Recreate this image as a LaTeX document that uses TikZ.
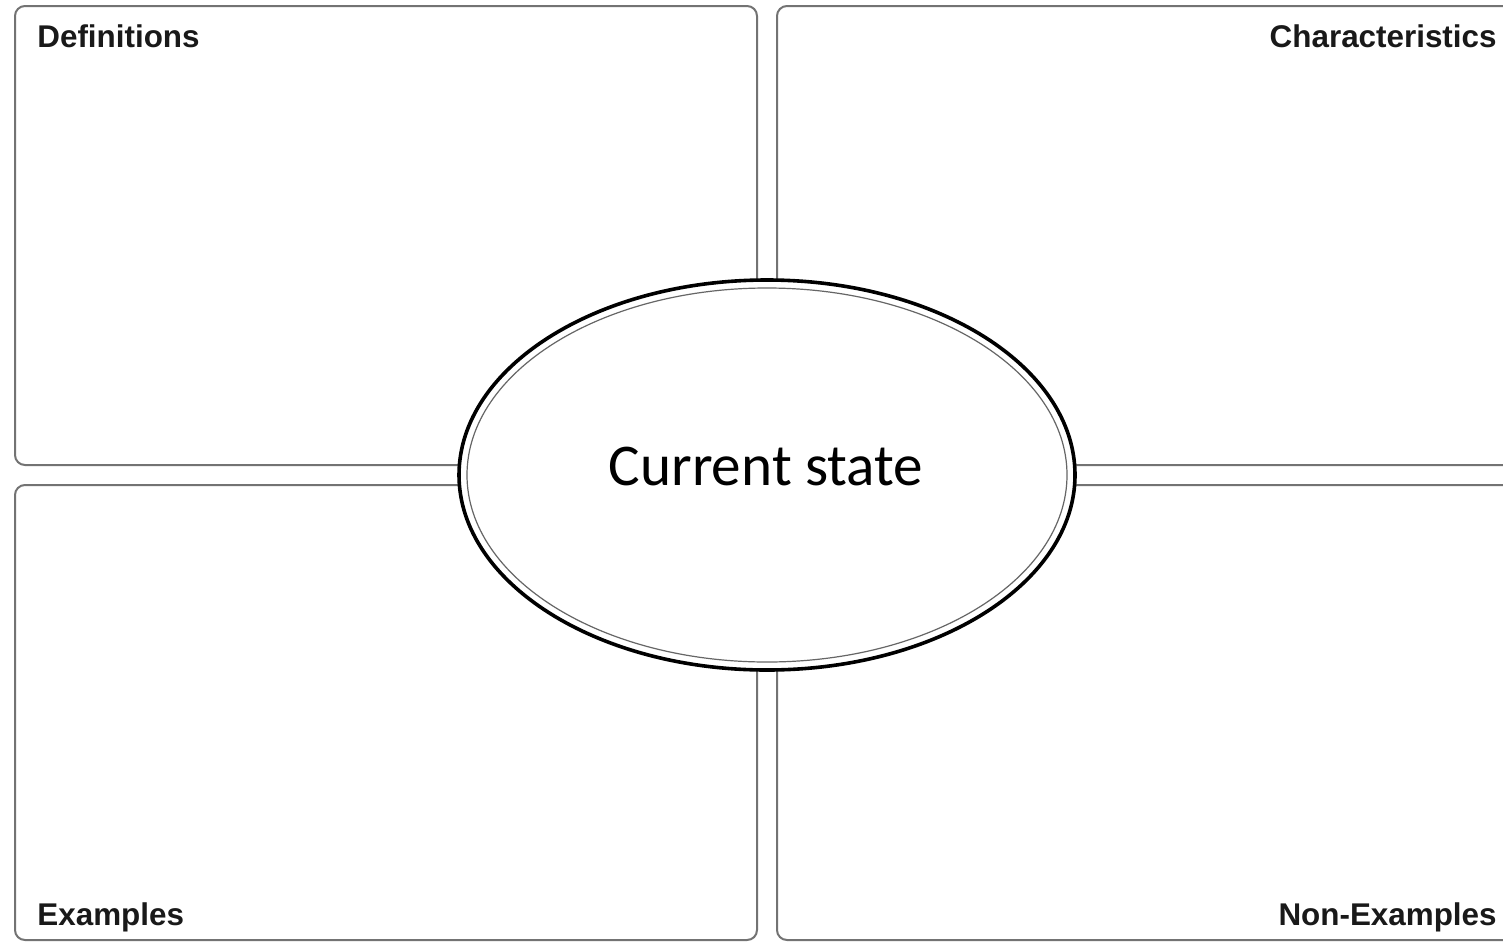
\documentclass[tikz,border=0pt]{standalone}
\usepackage{fontspec}
\setmainfont{Liberation Sans}
\newfontfamily\calibfont{Carlito}
\begin{document}
\begin{tikzpicture}[x=0.5pt,y=-0.5pt,
  panel/.style={draw=black!55, line width=1pt, rounded corners=5pt, fill=white},
  lbl/.style={font=\bfseries\fontsize{15.7}{18}\selectfont, inner sep=0pt, text=black!90},
  outerring/.style={draw=black, line width=1.8pt, fill=white},
  innerring/.style={draw=black!60, line width=0.6pt},
]
\useasboundingbox (0,0) rectangle (1503,942);
\clip (0,0) rectangle (1503,942);
\fill[white] (0,0) rectangle (1503,942);
% panels
\draw[panel] (15,6) rectangle (757,465);
\draw[panel] (777,6) rectangle (1530,465);
\draw[panel] (15,485) rectangle (757,940);
\draw[panel] (777,485) rectangle (1530,940);
% labels
\node[lbl, anchor=base west] (def) at (37,47) {Definitions};
\node[lbl, anchor=base east] (cha) at (1497,47) {Characteristics};
\node[lbl, anchor=base west] (exa) at (37,925) {Examples};
\node[lbl, anchor=base east] (non) at (1497,925) {Non-Examples};
% central ellipse
\draw[outerring] (767,475) ellipse [x radius=308, y radius=195];
\draw[innerring] (767,475) ellipse [x radius=300, y radius=187];
\node[font=\calibfont\fontsize{29.6}{34}\selectfont, inner sep=0pt] (cur) at (766,467) {Current state};
\end{tikzpicture}
\end{document}
